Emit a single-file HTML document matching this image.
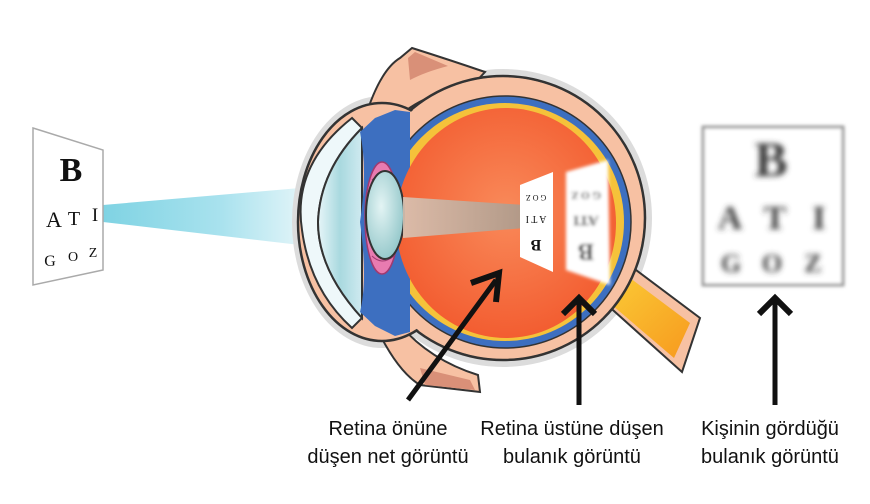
<!DOCTYPE html>
<html><head><meta charset="utf-8"><style>
html,body{margin:0;padding:0;background:#fff;}
svg{display:block;}
</style></head><body>
<svg width="870" height="504" viewBox="0 0 870 504" xmlns="http://www.w3.org/2000/svg">
<defs>
<linearGradient id="beam" x1="0" x2="1" y1="0" y2="0">
<stop offset="0" stop-color="#7fd3e3"/><stop offset="0.6" stop-color="#a9e2ee"/><stop offset="1" stop-color="#e0f4f8"/>
</linearGradient>
<radialGradient id="vit" cx="0.5" cy="0.45" r="0.6">
<stop offset="0" stop-color="#f98a5a"/><stop offset="1" stop-color="#f2592d"/>
</radialGradient>
<linearGradient id="nerve" x1="0" x2="1" y1="0" y2="1">
<stop offset="0" stop-color="#fbd23a"/><stop offset="1" stop-color="#f79a1e"/>
</linearGradient>
<linearGradient id="gb" x1="0" x2="1">
<stop offset="0" stop-color="#d9c4b4"/><stop offset="1" stop-color="#a99a8c"/>
</linearGradient>
<radialGradient id="lens" cx="0.4" cy="0.4" r="0.7">
<stop offset="0" stop-color="#e3f4f4"/><stop offset="1" stop-color="#8cc3c6"/>
</radialGradient>
<linearGradient id="corn" x1="0" x2="1">
<stop offset="0" stop-color="#e6f5f8"/><stop offset="0.5" stop-color="#a9d9df"/><stop offset="1" stop-color="#cfeaf0"/>
</linearGradient>
<filter id="bl"><feGaussianBlur stdDeviation="3"/></filter>
<filter id="bl2"><feGaussianBlur stdDeviation="1.6"/></filter>
</defs>

<polygon points="103,205 300,188 300,245 103,222" fill="url(#beam)"/>

<polygon points="33,128 103,150 103,270 33,285" fill="#fff" stroke="#aaa" stroke-width="1.5"/>
<g font-family="Liberation Serif, serif" fill="#111">
<text x="71" y="181" font-size="34" font-weight="bold" text-anchor="middle">B</text>
<text x="54" y="227" font-size="22" text-anchor="middle">A</text>
<text x="74" y="225" font-size="20" text-anchor="middle">T</text>
<text x="95" y="221" font-size="19" text-anchor="middle">I</text>
<text x="50" y="266" font-size="16" text-anchor="middle">G</text>
<text x="73" y="261" font-size="14" text-anchor="middle">O</text>
<text x="93" y="257" font-size="14" text-anchor="middle">Z</text>
</g>

<circle cx="503" cy="218" r="149" fill="#dcdcdc"/>
<ellipse cx="382" cy="222" rx="90" ry="126" fill="#dcdcdc"/>
<path d="M365,118 Q380,70 400,58 L412,48 Q450,60 485,72 L470,88 Q420,92 390,125 Z" fill="#f7c1a3" stroke="#333" stroke-width="2"/>
<path d="M408,58 L415,52 L448,66 Q425,72 410,80 Z" fill="#d99078"/>
<path d="M372,318 Q395,370 420,385 L480,392 L478,375 Q430,360 400,325 Z" fill="#f7c1a3" stroke="#333" stroke-width="2"/>
<path d="M420,368 L470,380 L475,390 L425,385 Z" fill="#d99078"/>
<polygon points="585,285 612,252 700,318 682,372" fill="#f7c1a3" stroke="#333" stroke-width="2"/>
<polygon points="592,288 614,266 690,323 674,358" fill="url(#nerve)"/>
<circle cx="503" cy="218" r="142" fill="#f7c1a3" stroke="#333" stroke-width="2.5"/>
<ellipse cx="382" cy="222" rx="84" ry="119" fill="#f7c1a3" stroke="#333" stroke-width="2.5"/>
<circle cx="503" cy="218" r="140.5" fill="#f7c1a3"/>
<ellipse cx="382" cy="222" rx="82" ry="117" fill="#f7c1a3"/>
<path d="M352,118 Q292,165 302,230 Q310,290 352,328 L362,318 Q318,270 318,222 Q320,170 362,128 Z" fill="#eef8fa" stroke="#333" stroke-width="2"/>
<path d="M362,128 Q320,170 318,222 Q318,270 362,318 Z" fill="url(#corn)" stroke="#333" stroke-width="2"/>
<circle cx="505" cy="222" r="126" fill="#3d6fc0" stroke="#333" stroke-width="1.5"/>
<circle cx="505" cy="222" r="119" fill="#f5c23a"/>
<path d="M360,132 L375,118 L395,110 L410,112 L410,332 L395,336 L375,326 L360,312 Q368,280 360,222 Q368,170 360,132 Z" fill="#3d6fc0"/>
<ellipse cx="506" cy="223" rx="110" ry="115" fill="url(#vit)"/>
<ellipse cx="382" cy="218" rx="17" ry="56" fill="#e87bb0" stroke="#a03a70" stroke-width="1.5"/>
<g stroke="#a03a70" stroke-width="1" fill="none">
<path d="M372,180 Q382,170 394,180"/><path d="M370,200 Q382,192 396,200"/><path d="M370,236 Q382,244 396,236"/><path d="M372,256 Q382,266 394,256"/>
</g>
<ellipse cx="385" cy="215" rx="19" ry="44" fill="url(#lens)" stroke="#333" stroke-width="2"/>
<polygon points="403,197 525,205 525,228 403,238" fill="url(#gb)" opacity="0.9"/>

<polygon points="520,185 553,172 553,272 520,257" fill="#fff"/>
<g font-family="Liberation Serif, serif" fill="#111" transform="rotate(180 536 220)">
<text x="536" y="200" font-size="16" font-weight="bold" text-anchor="middle">B</text>
<text x="536" y="224" font-size="10" text-anchor="middle">A T I</text>
<text x="536" y="245" font-size="8" text-anchor="middle">G O Z</text>
</g>
<g filter="url(#bl2)">
<polygon points="566,172 608,160 610,285 566,270" fill="#fff"/>
<g font-family="Liberation Serif, serif" fill="#222" transform="rotate(180 587 222)">
<text x="588" y="200" font-size="24" font-weight="bold" text-anchor="middle">B</text>
<text x="588" y="228" font-size="15" font-weight="bold" text-anchor="middle">ATI</text>
<text x="588" y="252" font-size="11" font-weight="bold" text-anchor="middle">G O Z</text>
</g>
</g>

<rect x="703" y="127" width="140" height="158" fill="#fff" stroke="#999" stroke-width="3" filter="url(#bl2)"/>
<g filter="url(#bl)" font-family="Liberation Serif, serif" font-weight="bold" fill="#3a3a3a" text-anchor="middle">
<text x="771" y="176" font-size="50">B</text>
<text x="730" y="229" font-size="34">A</text>
<text x="775" y="229" font-size="34">T</text>
<text x="819" y="229" font-size="34">I</text>
<text x="731" y="272" font-size="26">G</text>
<text x="772" y="272" font-size="26">O</text>
<text x="813" y="272" font-size="26">Z</text>
</g>

<g stroke="#111" stroke-width="5" fill="none">
<line x1="408" y1="400" x2="496" y2="280"/>
<polyline points="471,283 499,273 496,302" stroke-width="6"/>
<line x1="579" y1="405" x2="579" y2="302"/>
<polyline points="563,314 579,298 595,314" stroke-width="6"/>
<line x1="775" y1="405" x2="775" y2="302"/>
<polyline points="759,314 775,298 791,314" stroke-width="6"/>
</g>

<g font-family="Liberation Sans, sans-serif" font-size="20" fill="#111" text-anchor="middle">
<text x="388" y="435">Retina önüne</text>
<text x="388" y="463">düşen net görüntü</text>
<text x="572" y="435">Retina üstüne düşen</text>
<text x="572" y="463">bulanık görüntü</text>
<text x="770" y="435">Kişinin gördüğü</text>
<text x="770" y="463">bulanık görüntü</text>
</g>
</svg>
</body></html>
